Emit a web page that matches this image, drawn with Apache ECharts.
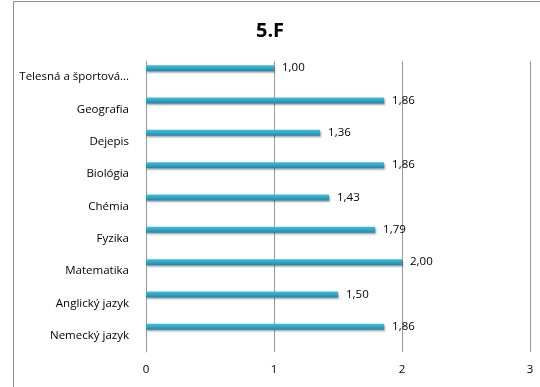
<!DOCTYPE html>
<html>
<head>
<meta charset="utf-8">
<script src="https://cdn.jsdelivr.net/npm/echarts@6/dist/echarts.min.js"></script>
<style>
  html, body { margin: 0; padding: 0; background: #fff; }
  #chart { width: 540px; height: 387px; }
</style>
</head>
<body>
<div id="chart"></div>
<script>
// Subjects, listed bottom to top as the category axis draws them
const subjects = ['Nemecký jazyk', 'Anglický jazyk', 'Matematika', 'Fyzika', 'Chémia',
                  'Biológia', 'Dejepis', 'Geografia', 'Telesná a športová výchova'];
const averages = [1.86, 1.50, 2.00, 1.79, 1.43, 1.86, 1.36, 1.86, 1.00];
const xTicks = [0, 1, 2, 3];

const font = '"Open Sans", "Noto Sans", sans-serif';
const chart = echarts.init(document.getElementById('chart'), null, { renderer: 'canvas' });

chart.setOption({
  animation: false,
  title: {
    text: '5.F',
    left: 'center',
    top: 16,
    textStyle: { fontFamily: font, fontSize: 20, fontWeight: 'bold', color: '#000' }
  },
  graphic: [{
    type: 'rect',
    shape: { x: 13.5, y: 1.5, width: 600, height: 500 },
    style: { fill: 'none', stroke: '#8c8c8c', lineWidth: 1 },
    silent: true
  }],
  grid: { left: 146, right: 10, top: 61, bottom: 35 },
  xAxis: {
    type: 'value',
    min: xTicks[0],
    max: xTicks[xTicks.length - 1],
    interval: 1,
    axisLine: { show: false },
    axisTick: { show: false },
    splitLine: { show: true, lineStyle: { color: '#999999', width: 1 } },
    axisLabel: { fontFamily: font, fontSize: 11.5, color: '#000', margin: 12 }
  },
  yAxis: {
    type: 'category',
    data: subjects,
    axisLine: { show: true, lineStyle: { color: '#999999' } },
    axisTick: { show: false },
    axisLabel: {
      fontFamily: font, fontSize: 11.5, color: '#000', margin: 17,
      width: 124, overflow: 'truncate', ellipsis: '…'
    }
  },
  series: [{
    type: 'bar',
    data: averages,
    barWidth: 6,
    barGap: '200%',
    itemStyle: {
      color: new echarts.graphic.LinearGradient(0, 0, 0, 1, [
        { offset: 0, color: '#4cbad6' },
        { offset: 0.5, color: '#2ea6c6' },
        { offset: 1, color: '#1f86a3' }
      ]),
      shadowColor: 'rgba(0,0,0,0.35)',
      shadowBlur: 2,
      shadowOffsetX: 1,
      shadowOffsetY: 1.5
    },
    label: {
      show: true,
      position: 'right',
      distance: 8,
      fontFamily: font, fontSize: 11.5, color: '#000',
      formatter: p => p.value.toFixed(2).replace('.', ',')
    }
  }, {
    type: 'bar',
    data: [],
    barWidth: 6
  }]
});
</script>
</body>
</html>
